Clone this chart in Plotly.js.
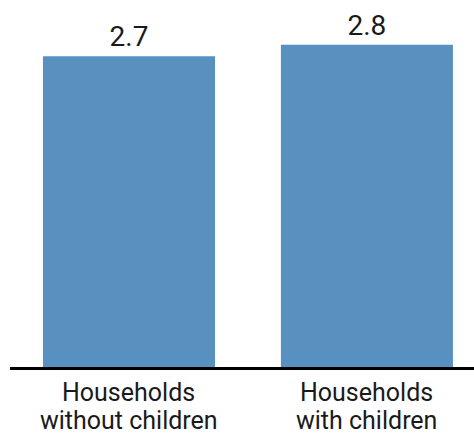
<!DOCTYPE html>
<html>
<head>
<meta charset="utf-8">
<script src="https://cdn.plot.ly/plotly-3.0.1.min.js"></script>
<style>html,body{margin:0;padding:0;background:#fff;}#chart{width:474px;height:435px;}</style>
</head>
<body>
<div id="chart"></div>
<script>
const categories = ["Households without children", "Households with children"];
const labelLine1 = ["Households", "Households"];
const labelLine2 = ["without children", "with children"];
const values = [2.7, 2.8];
const valueLabels = ["2.7", "2.8"];

const FONT = 'Roboto, "Liberation Sans", sans-serif';
const TXT = '#1a1a1a';

const trace = {
  type: 'bar',
  x: categories,
  y: values,
  text: valueLabels,
  textposition: 'outside',
  cliponaxis: false,
  textfont: {family: FONT, size: 28, color: TXT},
  marker: {color: '#5891c0', line: {width: 0}},
  hoverinfo: 'none'
};

const annotations = [];
categories.forEach((c, i) => {
  annotations.push({x: c, xref: 'x', y: 0, yref: 'y', yanchor: 'top', yshift: -10,
    text: labelLine1[i], showarrow: false, borderpad: 0, font: {family: FONT, size: 25, color: TXT}});
  annotations.push({x: c, xref: 'x', y: 0, yref: 'y', yanchor: 'top', yshift: -38,
    text: labelLine2[i], showarrow: false, borderpad: 0, font: {family: FONT, size: 25, color: TXT}});
});

const layout = {
  width: 474, height: 435,
  margin: {l: 10, r: 0, t: 5, b: 68},
  paper_bgcolor: '#fff', plot_bgcolor: '#fff',
  bargap: 0.277,
  showlegend: false,
  xaxis: {range: [-0.5, 1.45], showticklabels: false, ticks: '', showgrid: false, zeroline: false,
          showline: true, linecolor: '#000', linewidth: 2.5, fixedrange: true},
  yaxis: {range: [0, 3.145], visible: false, showgrid: false, zeroline: false, fixedrange: true},
  annotations: annotations
};

Plotly.newPlot('chart', [trace], layout, {displayModeBar: false, staticPlot: true});
</script>
</body>
</html>
